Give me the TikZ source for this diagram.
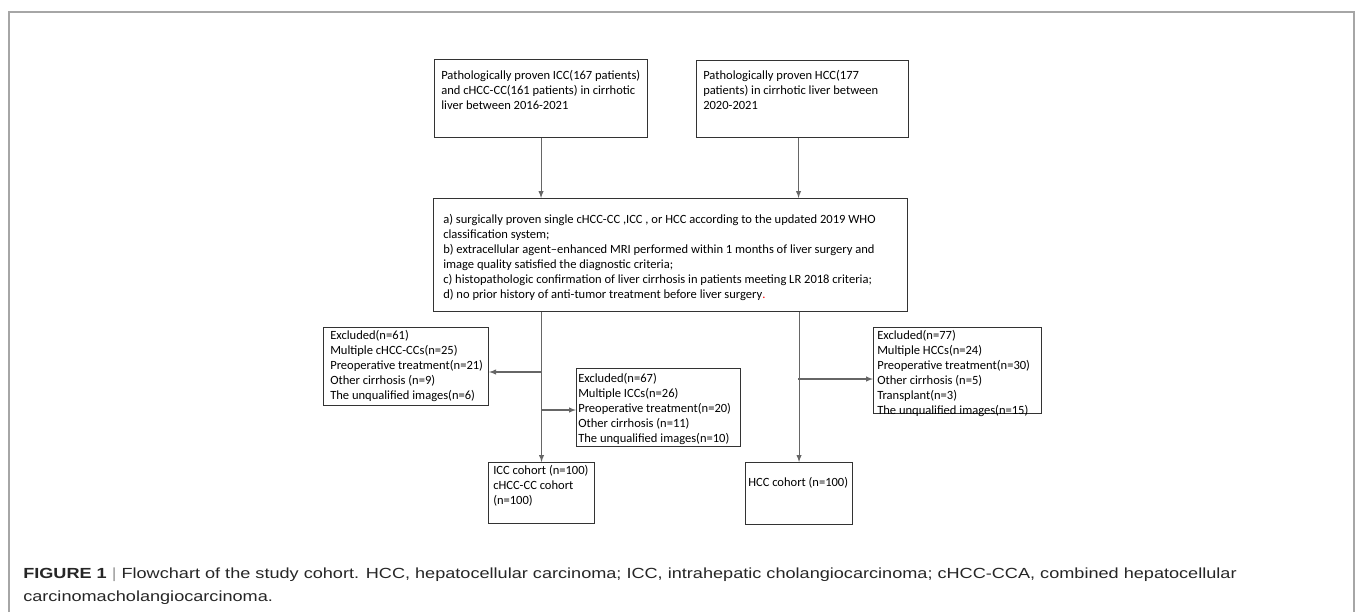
\documentclass[tikz,border=0pt]{standalone}
\usepackage{fontspec}
\setmainfont{Carlito}
\newfontfamily\capfont{Liberation Sans}
\usepackage{tikz}

\tikzset{
  flowbox/.style={draw=black!80, line width=0.8pt, anchor=north west, inner sep=0pt},
  boxtext/.style={anchor=north west, align=left, inner sep=0pt, font=\fontsize{9.4}{11.25}\selectfont},
  flowline/.style={draw=black!60, line width=0.8pt, -latex},
  captext/.style={anchor=base west, inner sep=0pt, text=black!85, font=\capfont\fontsize{11}{16}\selectfont},
}

\begin{document}
\begin{tikzpicture}[x=0.75pt,y=-0.75pt]
\useasboundingbox (0,0) rectangle (1355,612);
\draw[black!35, line width=0.9pt] (9,612) -- (9,12) -- (1354,12) -- (1354,612);

\node[flowbox, minimum width=159.75pt, minimum height=58.5pt,
  label={[boxtext, xshift=5.25pt, yshift=-8.25pt]north west:{Pathologically proven ICC(167 patients)\\and cHCC-CC(161 patients) in cirrhotic\\liver between 2016-2021}}] (iccsrc) at (434,59) {};
\node[flowbox, minimum width=159pt, minimum height=57.75pt,
  label={[boxtext, xshift=5.25pt, yshift=-7.5pt]north west:{Pathologically proven HCC(177\\patients) in cirrhotic liver between\\2020-2021}}] (hccsrc) at (696,60) {};
\node[flowbox, minimum width=355.5pt, minimum height=84.75pt,
  label={[boxtext, xshift=7.5pt, yshift=-12pt]north west:{a) surgically proven single cHCC-CC ,ICC , or HCC according to the updated 2019 WHO\\classification system;\\b) extracellular agent--enhanced MRI performed within 1 months of liver surgery and\\image quality satisfied the diagnostic criteria;\\c) histopathologic confirmation of liver cirrhosis in patients meeting LR 2018 criteria;\\d) no prior history of anti-tumor treatment before liver surgery{\color{red}.}}}] (crit) at (433,198) {};

\node[flowbox, minimum width=123.75pt, minimum height=58.5pt,
  label={[boxtext, xshift=5.25pt, yshift=-2.25pt]north west:{Excluded(n=61)\\Multiple cHCC-CCs(n=25)\\Preoperative treatment(n=21)\\Other cirrhosis (n=9)\\The unqualified images(n=6)}}] (exicc) at (323,327) {};
\node[flowbox, minimum width=123pt, minimum height=58.5pt,
  label={[boxtext, xshift=1.5pt, yshift=-3.75pt]north west:{Excluded(n=67)\\Multiple ICCs(n=26)\\Preoperative treatment(n=20)\\Other cirrhosis (n=11)\\The unqualified images(n=10)}}] (excc) at (576,368) {};
\node[flowbox, minimum width=126pt, minimum height=64.5pt,
  label={[boxtext, xshift=3pt, yshift=-2.25pt]north west:{Excluded(n=77)\\Multiple HCCs(n=24)\\Preoperative treatment(n=30)\\Other cirrhosis (n=5)\\Transplant(n=3)\\The unqualified images(n=15)}}] (exhcc) at (873,327) {};

\node[flowbox, minimum width=79.5pt, minimum height=45.75pt,
  label={[boxtext, xshift=3.75pt, yshift=-2.25pt]north west:{ICC cohort (n=100)\\cHCC-CC cohort\\(n=100)}}] (icccoh) at (488,462) {};
\node[flowbox, minimum width=80.25pt, minimum height=46.5pt,
  label={[boxtext, xshift=2.25pt, yshift=-11.25pt]north west:{HCC cohort (n=100)}}] (hcccoh) at (745,462) {};

\coordinate (splitA) at (541,372);
\coordinate (splitB) at (541,410);
\coordinate (splitC) at (798,379);

\draw[flowline] (iccsrc.south) -- (iccsrc.south |- crit.north);
\draw[flowline] ([xshift=-3pt]hccsrc.south) -- ([xshift=-3pt]hccsrc.south |- crit.north);
\draw[flowline] (icccoh.north |- crit.south) -- (icccoh.north);
\draw[flowline] (hcccoh.north |- crit.south) -- (hcccoh.north);
\draw[flowline] (splitA) -- (splitA -| exicc.east);
\draw[flowline] (splitB) -- (splitB -| excc.west);
\draw[flowline] (splitC) -- (splitC -| exhcc.west);

\node[captext] (capone) at (23,578)
  {\scalebox{1.235}[1]{\textbf{FIGURE 1} {\color{black!40}|} Flowchart of the study cohort. HCC, hepatocellular carcinoma; ICC, intrahepatic cholangiocarcinoma; cHCC-CCA, combined hepatocellular}};
\node[captext] (captwo) at (23,601)
  {\scalebox{1.235}[1]{carcinomacholangiocarcinoma.}};
\end{tikzpicture}
\end{document}
